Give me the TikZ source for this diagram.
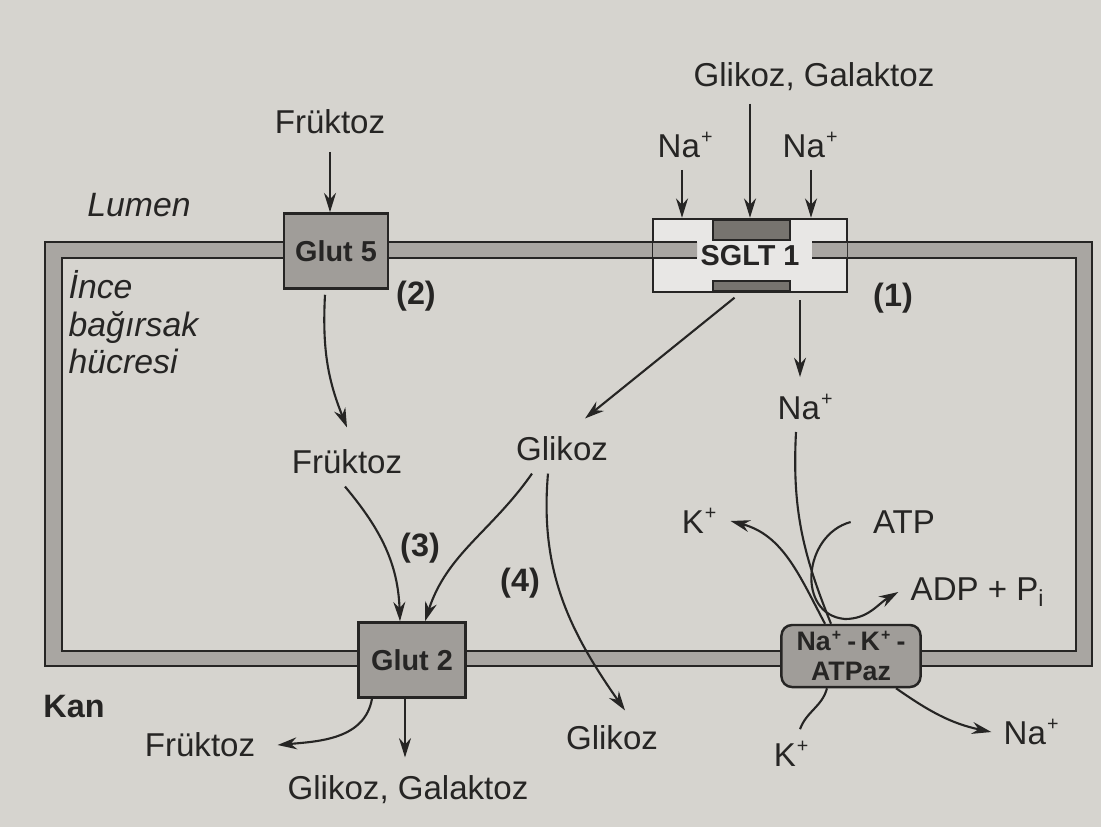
\documentclass[tikz,border=0pt]{standalone}
\usepackage{fontspec}
\setmainfont{Liberation Sans}
\usepackage{xcolor}
\usetikzlibrary{arrows.meta}
\definecolor{bookPaper}{HTML}{D6D4CF}
\definecolor{bookBand}{HTML}{A9A6A2}
\definecolor{bookBox}{HTML}{A09D99}
\definecolor{bookBar}{HTML}{77746F}
\definecolor{bookInk}{HTML}{262524}
\newcommand{\ionsup}[1]{\textsuperscript{\kern0.3pt\scalebox{0.85}{#1}}}

\begin{document}
\begin{tikzpicture}[x=0.01cm,y=-0.01cm,
    every node/.style={font=\fontsize{9.4}{10.6}\selectfont, text=bookInk},
    num/.style={font=\fontsize{9.2}{10.6}\selectfont\bfseries},
    carrier/.style={draw=bookInk, line width=0.7pt, fill=bookBox, inner sep=0pt, align=center,
      font=\fontsize{8.2}{9.4}\selectfont\bfseries},
    flow/.style={draw=bookInk, line width=0.6pt, -{Stealth[length=5.5pt,width=3.4pt]}},
    link/.style={draw=bookInk, line width=0.6pt}]
    \useasboundingbox (0,0) rectangle (1101,827);
    \fill[bookPaper] (0,0) rectangle (1101,827);
    \fill[bookBand, even odd rule] (45,242) rectangle (1092,666) (62,258) rectangle (1076,651);
    \draw[bookInk, line width=0.6pt] (45,242) rectangle (1092,666) (62,258) rectangle (1076,651);

    \node[font=\fontsize{9.6}{10.6}\selectfont\itshape] (lumen) at (139,205) {Lumen};
    \node[font=\fontsize{9.6}{10.6}\selectfont\itshape, align=left, anchor=north west, inner sep=0pt] (cell) at (68,270) {İnce\\bağırsak\\hücresi};
    \node[num] (kan) at (74,707) {Kan};

    \node (fruktozTop) at (330,122) {Früktoz};
    \node[carrier, minimum width=1.04cm, minimum height=0.75cm] (glut5) at (336,251) {Glut 5};
    \node[num] (n2) at (416,296) {(2)};

    \node (ggTop) at (814,77) {Glikoz, Galaktoz};
    \node (naL) at (686,145) {Na\ionsup{+}};
    \node (naR) at (811,145) {Na\ionsup{+}};
    \node[carrier, fill=bookPaper!55!white, minimum width=1.94cm, minimum height=0.73cm] (sglt) at (750,255.5) {SGLT 1};
    \fill[bookBand] (653,242) rectangle (697,258) (812,242) rectangle (847,258);
    \draw[bookInk, line width=0.6pt] (653,242) -- (697,242) (653,258) -- (697,258) (812,242) -- (847,242) (812,258) -- (847,258);
    \filldraw[fill=bookBar, draw=bookInk, line width=0.5pt] (713,220) rectangle (790,240) (713,281) rectangle (790,291);
    \node[num] (n1) at (893,298) {(1)};

    \node (naMid) at (806,407) {Na\ionsup{+}};
    \node (glikozMid) at (562,449) {Glikoz};
    \node (fruktozMid) at (347,462) {Früktoz};
    \node[num] (n3) at (420,548) {(3)};
    \node[num] (n4) at (520,583) {(4)};

    \node (kTop) at (700,521) {K\ionsup{+}};
    \node (atp) at (904,522) {ATP};
    \node (adp) at (978,592) {ADP + P\textsubscript{i}};

    \node[carrier, minimum width=1.07cm, minimum height=0.75cm] (glut2) at (412,660) {Glut 2};
    \node[carrier, rounded corners=3pt, minimum width=1.39cm, minimum height=0.62cm,
      font=\fontsize{7.6}{8.6}\selectfont\bfseries] (atpaz) at (851,656) {Na\ionsup{+}\,-\,K\ionsup{+}\,-\\ATPaz};

    \node (fruktozBot) at (200,745) {Früktoz};
    \node (ggBot) at (408,790) {Glikoz, Galaktoz};
    \node (glikozBot) at (612,738) {Glikoz};
    \node (kBot) at (792,754) {K\ionsup{+}};
    \node (naBot) at (1032,732) {Na\ionsup{+}};
    \coordinate (atpTurn) at (845,619);

    \draw[flow, shorten <=1.5pt] (fruktozTop.south) -- (fruktozTop.south |- glut5.north);
    \draw[flow] (ggTop.south -| sglt.north) -- (sglt.north);
    \draw[flow] ([xshift=-0.4mm]naL.south) -- ([xshift=-0.4mm]naL.south |- sglt.north);
    \draw[flow] (naR.south) -- (naR.south |- sglt.north);

    \draw[flow] ([xshift=-1.1mm,yshift=-0.5mm]glut5.south) to[out=-93,in=112] ([yshift=1mm]fruktozMid.north);
    \draw[flow, shorten <=2pt] ([xshift=-1mm]sglt.south) -- ([xshift=2.3mm,yshift=0.6mm]glikozMid.north);
    \draw[flow, shorten <=2pt] ([xshift=-0.6mm]naMid.north |- sglt.south) -- ([xshift=-0.6mm,yshift=0.5mm]naMid.north);

    \draw[flow] ([xshift=-0.2mm]fruktozMid.south) to[out=-50,in=92] ([xshift=-1.2mm]glut2.north);
    \draw[flow] ([xshift=-3mm]glikozMid.south) to[out=-125,in=72] ([xshift=1.3mm]glut2.north);
    \draw[flow] ([xshift=-1.4mm]glikozMid.south) to[out=-95,in=125] ([xshift=1.3mm,yshift=0.3mm]glikozBot.north);

    \draw[flow] ([xshift=-4mm]glut2.south) to[out=-100,in=5] ([xshift=1mm]fruktozBot.east);
    \draw[flow] ([xshift=-0.7mm]glut2.south) -- ([xshift=-0.7mm,yshift=0.6mm]glut2.south |- ggBot.north);

    \draw[link] ([xshift=-1mm]naMid.south) to[out=-93,in=112] ([xshift=-2mm]atpaz.north);
    \draw[flow] ([xshift=-2.6mm]atpaz.north) to[out=118,in=-15] (kTop.east);
    \draw[flow] ([xshift=-1mm]atp.west) to[out=195,in=175,looseness=1.3] (atpTurn) to[out=0,in=-150] (adp.west);
    \draw[link] ([xshift=0.8mm]kBot.north) to[out=70,in=-105] ([xshift=-2.4mm]atpaz.south);
    \draw[flow] ([xshift=4.5mm]atpaz.south) to[out=-35,in=168] (naBot.west);
  \end{tikzpicture}
\end{document}
